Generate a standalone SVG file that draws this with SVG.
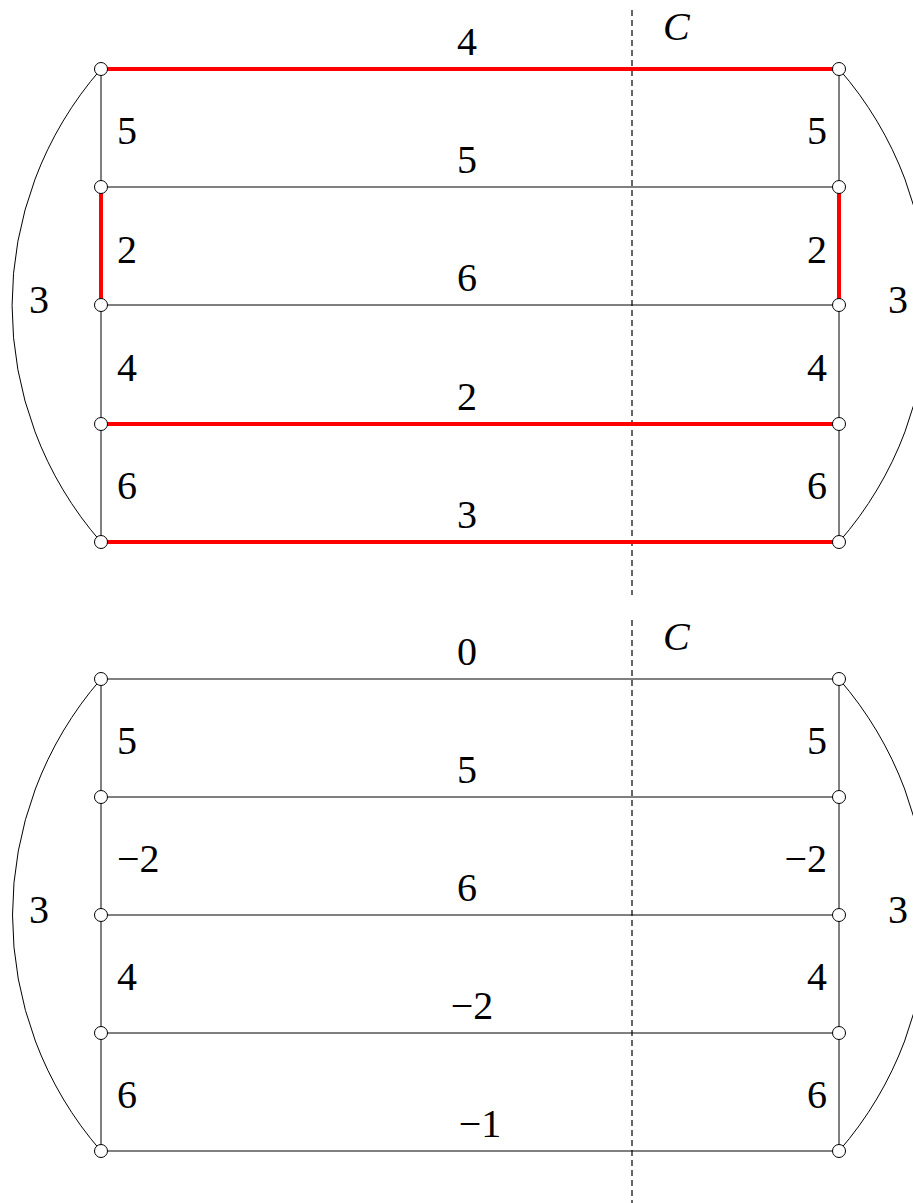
<svg xmlns="http://www.w3.org/2000/svg" width="913" height="1203" viewBox="0 0 913 1203">
<style>
.e{stroke:#000;stroke-width:1;fill:none}
.r{stroke:#f00;stroke-width:4;fill:none}
.d{stroke:#000;stroke-width:1.2;stroke-dasharray:6,4;fill:none}
.n{fill:#fff;stroke:#000;stroke-width:1}
.m{text-anchor:middle}
.s{text-anchor:end}
.i{font-style:italic}
</style>
<rect width="913" height="1203" fill="#fff"/>
<g id="connectors">
<line class="d" x1="632" y1="10" x2="632" y2="595"/>
<line class="d" x1="632" y1="620" x2="632" y2="1203"/>
<path class="e" d="M101,69 A359,359 0 0 0 101,542"/>
<path class="e" d="M839,69 A359,359 0 0 1 839,542"/>
<line class="e" x1="101" y1="69" x2="101" y2="187"/>
<line class="e" x1="101" y1="305" x2="101" y2="542"/>
<line class="e" x1="839" y1="69" x2="839" y2="187"/>
<line class="e" x1="839" y1="305" x2="839" y2="542"/>
<line class="e" x1="101" y1="187" x2="839" y2="187"/>
<line class="e" x1="101" y1="305" x2="839" y2="305"/>
<line class="r" x1="101" y1="69" x2="839" y2="69"/>
<line class="r" x1="101" y1="187" x2="101" y2="305"/>
<line class="r" x1="839" y1="187" x2="839" y2="305"/>
<line class="r" x1="101" y1="424" x2="839" y2="424"/>
<line class="r" x1="101" y1="542" x2="839" y2="542"/>
<path class="e" d="M101,679 A359,359 0 0 0 101,1151"/>
<path class="e" d="M839,679 A359,359 0 0 1 839,1151"/>
<line class="e" x1="101" y1="679" x2="101" y2="1151"/>
<line class="e" x1="839" y1="679" x2="839" y2="1151"/>
<line class="e" x1="101" y1="679" x2="839" y2="679"/>
<line class="e" x1="101" y1="797" x2="839" y2="797"/>
<line class="e" x1="101" y1="915" x2="839" y2="915"/>
<line class="e" x1="101" y1="1033" x2="839" y2="1033"/>
<line class="e" x1="101" y1="1151" x2="839" y2="1151"/>
</g>
<g id="nodes-top">
<circle id="tl1" class="n" cx="101" cy="69" r="6.5"/>
<circle id="tl2" class="n" cx="101" cy="187" r="6.5"/>
<circle id="tl3" class="n" cx="101" cy="305" r="6.5"/>
<circle id="tl4" class="n" cx="101" cy="424" r="6.5"/>
<circle id="tl5" class="n" cx="101" cy="542" r="6.5"/>
<circle id="tr1" class="n" cx="839" cy="69" r="6.5"/>
<circle id="tr2" class="n" cx="839" cy="187" r="6.5"/>
<circle id="tr3" class="n" cx="839" cy="305" r="6.5"/>
<circle id="tr4" class="n" cx="839" cy="424" r="6.5"/>
<circle id="tr5" class="n" cx="839" cy="542" r="6.5"/>
</g>
<g id="nodes-bottom">
<circle id="bl1" class="n" cx="101" cy="679" r="6.5"/>
<circle id="bl2" class="n" cx="101" cy="797" r="6.5"/>
<circle id="bl3" class="n" cx="101" cy="915" r="6.5"/>
<circle id="bl4" class="n" cx="101" cy="1033" r="6.5"/>
<circle id="bl5" class="n" cx="101" cy="1151" r="6.5"/>
<circle id="br1" class="n" cx="839" cy="679" r="6.5"/>
<circle id="br2" class="n" cx="839" cy="797" r="6.5"/>
<circle id="br3" class="n" cx="839" cy="915" r="6.5"/>
<circle id="br4" class="n" cx="839" cy="1033" r="6.5"/>
<circle id="br5" class="n" cx="839" cy="1151" r="6.5"/>
</g>
<g id="labels-top" font-family="Liberation Serif, DejaVu Serif, serif" font-size="40" fill="#000">
<text class="i" x="663" y="40">C</text>
<text class="m" x="467" y="55">4</text>
<text class="m" x="467" y="173">5</text>
<text class="m" x="467" y="291">6</text>
<text class="m" x="467" y="410">2</text>
<text class="m" x="467" y="528">3</text>
<text x="117" y="144">5</text>
<text x="117" y="263">2</text>
<text x="117" y="381">4</text>
<text x="117" y="499">6</text>
<text class="s" x="827" y="144">5</text>
<text class="s" x="827" y="263">2</text>
<text class="s" x="827" y="381">4</text>
<text class="s" x="827" y="499">6</text>
<text class="m" x="39" y="313">3</text>
<text class="m" x="898" y="313">3</text>
</g>
<g id="labels-bottom" font-family="Liberation Serif, DejaVu Serif, serif" font-size="40" fill="#000">
<text class="i" x="663" y="650">C</text>
<text class="m" x="467" y="665">0</text>
<text class="m" x="467" y="783">5</text>
<text class="m" x="467" y="901">6</text>
<text class="m" x="472" y="1019">−2</text>
<text class="m" x="480" y="1137">−1</text>
<text x="117" y="872">−2</text>
<text x="117" y="754">5</text>
<text x="117" y="990">4</text>
<text x="117" y="1108">6</text>
<text class="s" x="827" y="754">5</text>
<text class="s" x="827" y="872">−2</text>
<text class="s" x="827" y="990">4</text>
<text class="s" x="827" y="1108">6</text>
<text class="m" x="39" y="923">3</text>
<text class="m" x="898" y="923">3</text>
</g>
</svg>
